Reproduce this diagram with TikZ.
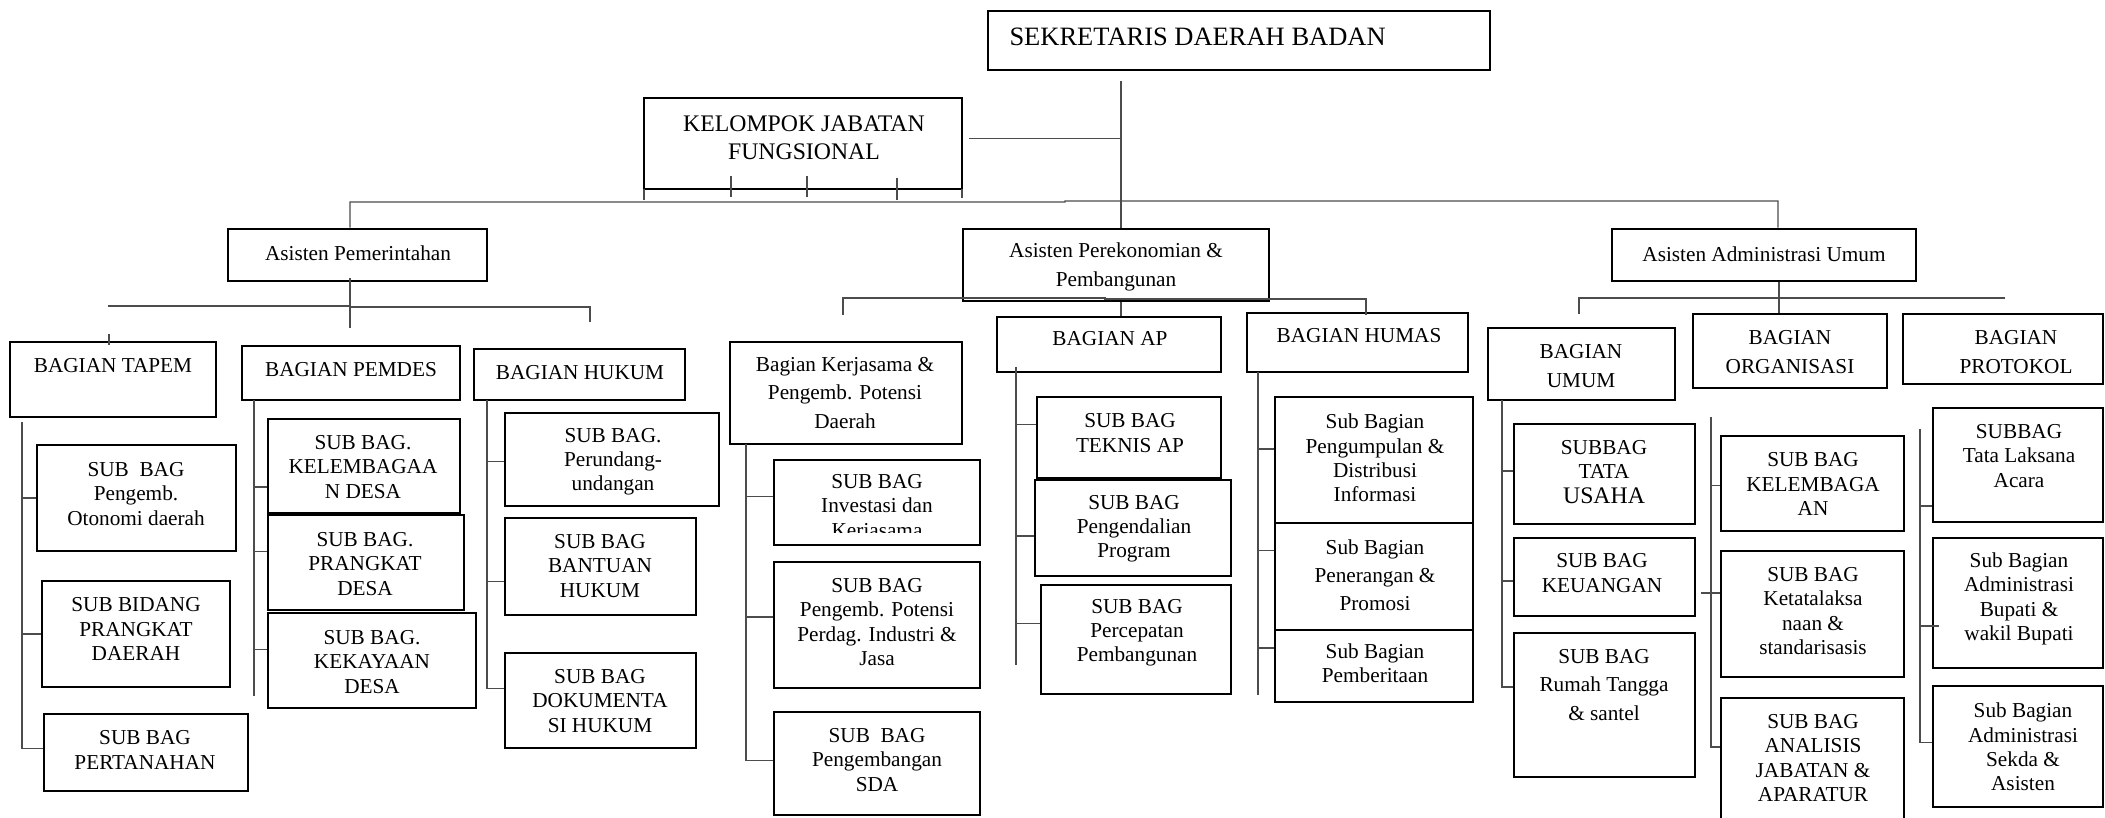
\documentclass[tikz,border=0pt]{standalone}
\usepackage{fontspec}
\setmainfont{Liberation Serif}
\usetikzlibrary{fit}
\tikzstyle{unit} = [rectangle, draw=black, line width=1pt, inner sep=0pt]
\tikzstyle{txt} = [align=center, inner sep=0pt, font=\fontsize{8.5}{9.7}\selectfont]
\tikzstyle{wide} = [font=\fontsize{8.5}{11.3}\selectfont]
\tikzstyle{link} = [line width=0.5pt, black!70]

\begin{document}
\begin{tikzpicture}[x=0.4pt, y=-0.4pt]
\useasboundingbox (0,0) rectangle (2105,818);

% Pimpinan
\node[unit, fit={(988,11) (1490,70)}] (sekda) {};
\node[txt, anchor=west, font=\fontsize{10.6}{12}\selectfont] (sekda-t) at (1009,37) {SEKRETARIS DAERAH BADAN};
\node[unit, fit={(644,98) (962,189)}] (kjf) {};
\node[txt, font=\fontsize{9.5}{11.2}\selectfont] (kjf-t) at (804,138) {KELOMPOK JABATAN\\FUNGSIONAL};

% Asisten
\node[unit, fit={(228,229) (487,281)}] (ap) {};
\node[txt] (ap-t) at (358,253) {Asisten Pemerintahan};
\node[unit, fit={(963,229) (1269,301)}] (ape) {};
\node[txt, wide] (ape-t) at (1116,267) {Asisten Perekonomian \&\\Pembangunan};
\node[unit, fit={(1612,229) (1916,281)}] (aau) {};
\node[txt] (aau-t) at (1764,254) {Asisten Administrasi Umum};

% Bagian
\node[unit, fit={(10,342) (216,417)}] (tapem) {};
\node[txt] (tapem-t) at (113,366) {BAGIAN TAPEM};
\node[unit, fit={(242,346) (460,400)}] (pemdes) {};
\node[txt] (pemdes-t) at (351,370) {BAGIAN PEMDES};
\node[unit, fit={(474,349) (685,400)}] (hukum) {};
\node[txt] (hukum-t) at (580,373) {BAGIAN HUKUM};
\node[unit, fit={(730,342) (962,444)}] (kerjasama) {};
\node[txt, wide] (kerjasama-t) at (845,393) {Bagian Kerjasama \&\\Pengemb. Potensi\\Daerah};
\node[unit, fit={(997,317) (1221,372)}] (bap) {};
\node[txt] (bap-t) at (1110,339) {BAGIAN AP};
\node[unit, fit={(1247,313) (1468,372)}] (humas) {};
\node[txt] (humas-t) at (1359,336) {BAGIAN HUMAS};
\node[unit, fit={(1488,328) (1675,400)}] (umum) {};
\node[txt, wide] (umum-t) at (1581,366) {BAGIAN\\UMUM};
\node[unit, fit={(1693,314) (1887,388)}] (organisasi) {};
\node[txt, wide] (organisasi-t) at (1790,352) {BAGIAN\\ORGANISASI};
\node[unit, fit={(1903,314) (2103,384)}] (protokol) {};
\node[txt, wide] (protokol-t) at (2016,352) {BAGIAN\\PROTOKOL};

% Sub bagian tapem
\node[unit, fit={(37,445) (236,551)}] (otonomi) {};
\node[txt] (otonomi-t) at (136,494) {SUB\ \ BAG\\Pengemb.\\Otonomi daerah};
\node[unit, fit={(42,581) (230,687)}] (pdaerah) {};
\node[txt] (pdaerah-t) at (136,629) {SUB BIDANG\\PRANGKAT\\DAERAH};
\node[unit, fit={(44,714) (248,791)}] (pertanahan) {};
\node[txt] (pertanahan-t) at (145,750) {SUB BAG\\PERTANAHAN};

% Sub bagian pemdes
\node[unit, fit={(268,419) (460,513)}] (kdesa) {};
\node[txt] (kdesa-t) at (363,467) {SUB BAG.\\KELEMBAGAA\\N DESA};
\node[unit, fit={(268,515) (464,610)}] (pdesa) {};
\node[txt] (pdesa-t) at (365,564) {SUB BAG.\\PRANGKAT\\DESA};
\node[unit, fit={(268,613) (476,708)}] (kekayaan) {};
\node[txt] (kekayaan-t) at (372,662) {SUB BAG.\\KEKAYAAN\\DESA};

% Sub bagian hukum
\node[unit, fit={(505,413) (719,506)}] (perundang) {};
\node[txt] (perundang-t) at (613,462) {SUB BAG.\\Perundang-\\undangan};
\node[unit, fit={(505,518) (696,615)}] (bantuan) {};
\node[txt] (bantuan-t) at (600,566) {SUB BAG\\BANTUAN\\HUKUM};
\node[unit, fit={(505,653) (696,748)}] (dokumentasi) {};
\node[txt] (dokumentasi-t) at (600,701) {SUB BAG\\DOKUMENTA\\SI HUKUM};

% Sub bagian kerjasama
\node[unit, fit={(774,460) (980,545)}] (investasi) {};
\begin{scope}
\clip (774,460) rectangle (980,532);
\node[txt] (investasi-t) at (877,508) {SUB BAG\\Investasi dan\\Kerjasama};
\end{scope}
\node[unit, fit={(774,562) (980,688)}] (potensi) {};
\node[txt] (potensi-t) at (877,622) {SUB BAG\\Pengemb. Potensi\\Perdag. Industri \&\\Jasa};
\node[unit, fit={(774,712) (980,815)}] (sda) {};
\node[txt] (sda-t) at (877,760) {SUB\ \ BAG\\Pengembangan\\SDA};

% Sub bagian AP
\node[unit, fit={(1037,397) (1221,478)}] (teknis) {};
\node[txt] (teknis-t) at (1130,433) {SUB BAG\\TEKNIS AP};
\node[unit, fit={(1035,480) (1231,576)}] (pengendalian) {};
\node[txt] (pengendalian-t) at (1134,529) {SUB BAG\\Pengendalian\\Program};
\node[unit, fit={(1041,585) (1231,694)}] (percepatan) {};
\node[txt] (percepatan-t) at (1137,633) {SUB BAG\\Percepatan\\Pembangunan};

% Sub bagian humas
\node[unit, fit={(1275,397) (1473,523)}] (pengumpulan) {};
\node[txt] (pengumpulan-t) at (1375,458) {Sub Bagian\\Pengumpulan \&\\Distribusi\\Informasi};
\node[unit, fit={(1275,523) (1473,630)}] (penerangan) {};
\node[txt, wide] (penerangan-t) at (1375,575) {Sub Bagian\\Penerangan \&\\Promosi};
\node[unit, fit={(1275,630) (1473,702)}] (pemberitaan) {};
\node[txt] (pemberitaan-t) at (1375,663) {Sub Bagian\\Pemberitaan};

% Sub bagian umum
\node[unit, fit={(1514,424) (1695,524)}] (tatausaha) {};
\node[txt] (tatausaha-t) at (1604,472) {SUBBAG\\TATA\\{\fontsize{9.5}{9.7}\selectfont USAHA}};
\node[unit, fit={(1514,538) (1695,616)}] (keuangan) {};
\node[txt] (keuangan-t) at (1602,573) {SUB BAG\\KEUANGAN};
\node[unit, fit={(1514,633) (1695,777)}] (rumah) {};
\node[txt, wide] (rumah-t) at (1604,685) {SUB BAG\\Rumah Tangga\\\& santel};

% Sub bagian organisasi
\node[unit, fit={(1721,436) (1904,531)}] (okelembagaan) {};
\node[txt] (okelembagaan-t) at (1813,484) {SUB BAG\\KELEMBAGA\\AN};
\node[unit, fit={(1721,551) (1904,677)}] (ketatalaksanaan) {};
\node[txt] (ketatalaksanaan-t) at (1813,611) {SUB BAG\\Ketatalaksa\\naan \&\\standarisasis};
\node[unit, fit={(1721,698) (1904,830)}] (analisis) {};
\node[txt] (analisis-t) at (1813,758) {SUB BAG\\ANALISIS\\JABATAN \&\\APARATUR};

% Sub bagian protokol
\node[unit, fit={(1933,408) (2103,522)}] (tatalaksana) {};
\node[txt] (tatalaksana-t) at (2019,456) {SUBBAG\\Tata Laksana\\Acara};
\node[unit, fit={(1933,538) (2103,668)}] (admbupati) {};
\node[txt] (admbupati-t) at (2019,599) {Sub Bagian\\Administrasi\\Bupati \&\\wakil Bupati};
\node[unit, fit={(1933,686) (2103,807)}] (admsekda) {};
\node[txt] (admsekda-t) at (2023,747) {Sub Bagian\\Administrasi\\Sekda \&\\Asisten};

% Garis pimpinan
\coordinate (spine) at (1121,81);
\draw[link] (spine) -- (spine |- ape.north);
\draw[link] (spine |- ape.south) -- (spine |- bap.north);
\draw[link] (kjf.east) ++(6,-5) -- +(153,0);
\draw[link] (644,189) -- (644,200);
\draw[link] (731,176) -- (731,197);
\draw[link] (807,176) -- (807,197);
\draw[link] (897,178) -- (897,200);
\draw[link] (962,189) -- (962,198);
\draw[link] ([xshift=-3pt]ap.north) |- (1065,202) |- (1778,201) -- ([xshift=5.6pt]aau.north);

% Garis asisten
\draw[link] ([xshift=-3pt,yshift=1.6pt]ap.south) -- ++(0,50);
\draw[link] (108,306) -- (350,306) |- (590,307) -- (590,322);
\draw[link] (tapem.north) ++(-4,-7) -- +(0,11);
\draw[link] (843,315) -- (843,298) -- (1105,298) |- (1366,299) -- (1366,315);
\draw[link] ([xshift=6pt]aau.south) -- ([xshift=6pt]aau.south |- organisasi.north);
\draw[link] (1579,314) |- (2005,298);

% Garis bagian
\draw[link] (22,422) -- (22,749);
\draw[link] (254,400) -- (254,696);
\draw[link] (487,400) -- (487,688);
\draw[link] (746,444) -- (746,760);
\draw[link] (1016,367) -- (1016,665);
\draw[link] (1258,372) -- (1258,695);
\draw[link] (1502,400) -- (1502,688);
\draw[link] (1711,417) -- (1711,747);
\draw[link] (1920,429) -- (1920,743);

% Cabang sub bagian
\draw[link] (otonomi.west) -- +(-15,0);
\draw[link] (pdaerah.west) -- +(-20,0);
\draw[link] (pertanahan.west) ++(0,-4) -- +(-22,0);
\draw[link] (kdesa.west) ++(0,21) -- +(-14,0);
\draw[link] (pdesa.west) ++(0,-11) -- +(-14,0);
\draw[link] (kekayaan.west) ++(0,-11) -- +(-14,0);
\draw[link] (perundang.west) ++(0,2) -- +(-18,0);
\draw[link] (bantuan.west) ++(0,15) -- +(-18,0);
\draw[link] (dokumentasi.west) ++(0,-12) -- +(-18,0);
\draw[link] (investasi.west) ++(0,-6) -- +(-28,0);
\draw[link] (potensi.west) ++(0,-8) -- +(-28,0);
\draw[link] (sda.west) ++(0,-3) -- +(-28,0);
\draw[link] (teknis.west) ++(0,-13) -- +(-21,0);
\draw[link] (pengendalian.west) ++(0,8) -- +(-19,0);
\draw[link] (percepatan.west) ++(0,-16) -- +(-25,0);
\draw[link] (pengumpulan.west) ++(0,-11) -- +(-17,0);
\draw[link] (penerangan.west) ++(0,-26) -- +(-17,0);
\draw[link] (pemberitaan.west) ++(0,-18) -- +(-17,0);
\draw[link] (tatausaha.west) ++(0,-3) -- +(-12,0);
\draw[link] (keuangan.west) ++(0,4) -- +(-12,0);
\draw[link] (rumah.west) ++(0,-18) -- +(-12,0);
\draw[link] (okelembagaan.west) ++(0,2) -- +(-10,0);
\draw[link] (ketatalaksanaan.west) ++(0,-21) -- +(-19,0);
\draw[link] (analisis.west) ++(0,-17) -- +(-10,0);
\draw[link] (tatalaksana.west) ++(0,41) -- +(-13,0);
\draw[link] (admbupati.west) ++(7,23) -- +(-20,0);
\draw[link] (admsekda.west) ++(0,-4) -- +(-13,0);

\end{tikzpicture}
\end{document}
